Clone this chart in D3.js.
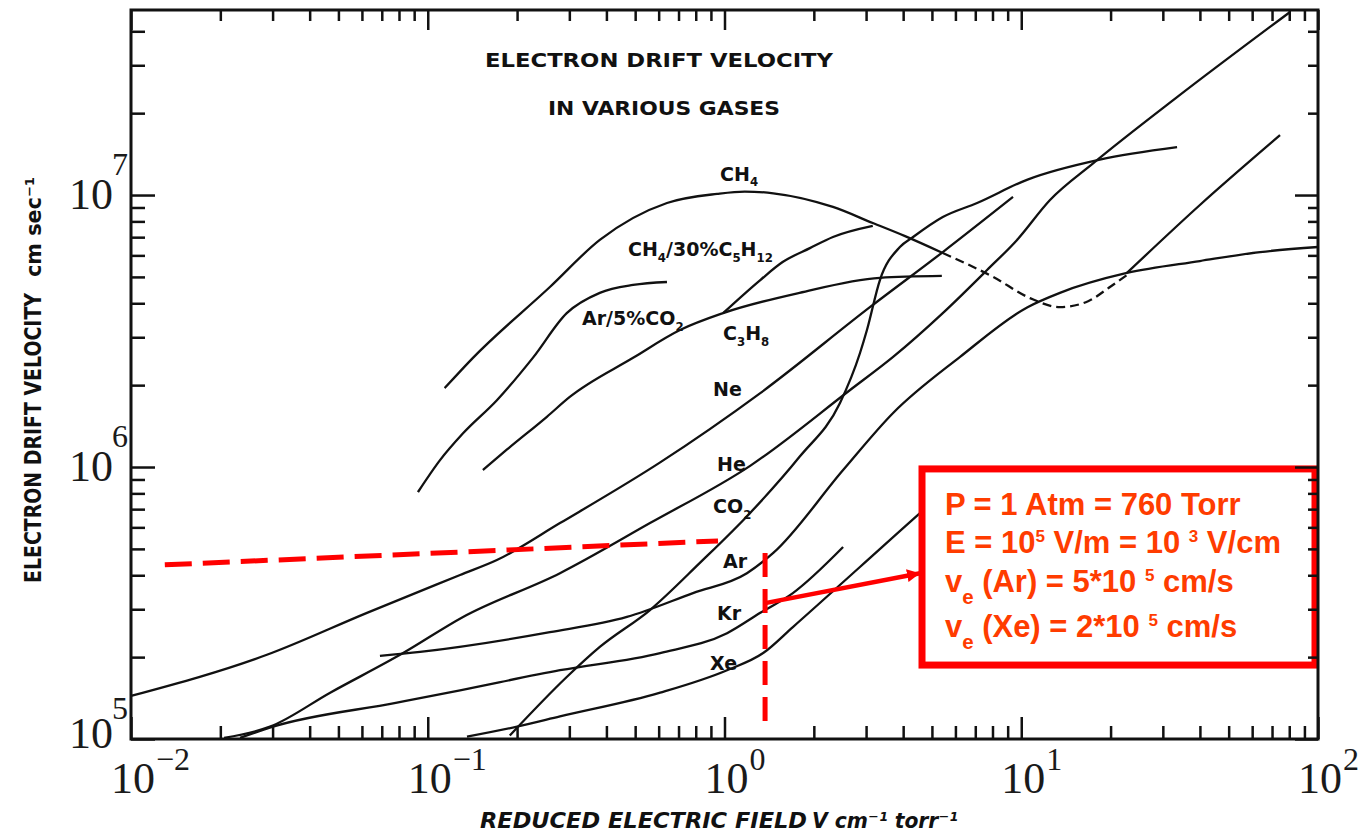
<!DOCTYPE html>
<html>
<head>
<meta charset="utf-8">
<script src="https://cdn.jsdelivr.net/npm/d3@7"></script>
<style>
  body { margin: 0; background: #fff; }
  .hand { font-family: "DejaVu Sans", sans-serif; font-weight: bold; fill: #111; }
  .tick-num { font-family: "Liberation Serif", "DejaVu Serif", serif; fill: #1a1a1a; }
  .note { font-family: "Liberation Sans", Arial, sans-serif; font-weight: bold; fill: #ff3c00; }
</style>
</head>
<body>
<div id="chart"></div>
<script>
// Data: reduced field E/p (V cm-1 torr-1) and electron drift velocity (cm/s)
var ch4 = [[0.114,1.95e6],[0.142,2.52e6],[0.258,4.59e6],[0.380,6.84e6],[0.640,9.35e6],[0.944,1.01e7],[1.17,1.03e7],[1.46,1.015e7],[2.32,9.04e6],[3.16,7.89e6],[4.06,7.06e6],[5.44,6.12e6]];
var ch4Dashed = [[5.44,6.12e6],[8.04,5.0e6],[10.7,4.18e6],[13.5,3.87e6],[16.8,4.07e6],[19.9,4.59e6],[22.7,5.08e6]];
var ch4Mix = [[0.989,3.68e6],[1.32,4.87e6],[1.57,5.67e6],[1.94,6.38e6],[2.32,7.01e6],[3.16,7.7e6]];
var arCo2 = [[0.0927,8.09e5],[0.110,1.06e6],[0.1315,1.33e6],[0.171,1.76e6],[0.226,2.52e6],[0.294,3.68e6],[0.380,4.37e6],[0.492,4.67e6],[0.640,4.79e6]];
var c3h8 = [[0.1535,9.75e5],[0.185,1.16e6],[0.252,1.53e6],[0.301,1.81e6],[0.492,2.52e6],[0.708,3.19e6],[0.989,3.68e6],[1.79,4.37e6],[3.34,4.96e6],[5.40,5.04e6]];
var ne = [[0.0100,1.44e5],[0.0287,2.04e5],[0.0624,2.91e5],[0.1285,4.01e5],[0.171,4.55e5],[0.279,6.22e5],[0.607,1.04e6],[1.32,1.87e6],[3.09,3.87e6],[5.44,6.17e6],[9.38,9.84e6]];
var he = [[0.0206,1.01e5],[0.0294,1.11e5],[0.0469,1.48e5],[0.0826,2.07e5],[0.1315,2.81e5],[0.279,4.07e5],[0.561,6.22e5],[1.22,1.01e6],[2.65,1.92e6],[3.70,2.54e6],[5.44,3.68e6],[7.67,5.30e6],[9.68,6.84e6],[12.5,9.59e6],[17.5,1.31e7],[33.5,2.29e7],[80.5,4.71e7]];
var co2 = [[0.189,1.03e5],[0.294,1.69e5],[0.380,2.18e5],[0.561,2.98e5],[0.826,4.44e5],[1.22,6.78e5],[1.79,1.09e6],[2.45,1.72e6],[2.86,2.62e6],[3.02,3.19e6],[3.34,4.87e6],[3.90,6.44e6],[4.32,7.01e6],[5.44,8.30e6],[7.10,9.35e6],[10.5,1.14e7],[18.4,1.35e7],[33.5,1.50e7]];
var ar = [[0.0690,2.02e5],[0.0942,2.09e5],[0.258,2.47e5],[0.469,2.81e5],[0.783,3.44e5],[1.19,4.07e5],[1.46,4.83e5],[2.51,9.75e5],[3.70,1.58e6],[6.22,2.54e6],[10.5,3.87e6],[13.5,4.37e6],[22.7,5.17e6],[40.0,5.72e6],[63.8,6.17e6],[100,6.44e6]];
var kr = [[0.0233,1.01e5],[0.0301,1.11e5],[0.0788,1.36e5],[0.1285,1.51e5],[0.279,1.79e5],[0.607,2.07e5],[1.02,2.45e5],[1.32,2.91e5],[1.70,3.44e5],[2.51,5.08e5]];
var xe = [[0.1356,1.02e5],[0.200,1.11e5],[0.279,1.21e5],[0.607,1.48e5],[1.02,1.79e5],[1.35,2.07e5],[1.70,2.58e5],[2.86,4.29e5],[4.81,7.13e5],[5.12,7.57e5]];
var xeHigh = [[22.7,5.17e6],[40.0,9.19e6],[74.5,1.66e7]];

// curve labels (text, E, v at baseline start)
var labelNames = ["CH_{4}", "CH_{4}/30%C_{5}H_{12}", "Ar/5%CO_{2}", "C_{3}H_{8}", "Ne", "He", "CO_{2}", "Ar", "Kr", "Xe"];
var labelE = [0.966, 0.473, 0.331, 0.989, 0.915, 0.944, 0.915, 0.989, 0.944, 0.894];
var labelV = [1.13e7, 5.97e6, 3.33e6, 2.93e6, 1.82e6, 9.67e5, 6.78e5, 4.26e5, 2.74e5, 1.79e5];

// axis ticks
var xTickExps = [-2, -1, 0, 1, 2];
var xTickLabels = ["\u22122", "\u22121", "0", "1", "2"];
var yTickExps = [5, 6, 7];
var yTickLabels = ["5", "6", "7"];
var yTop = 4.79e7;

// red annotation
var redHLine = [[0.0130, 4.37e5], [0.951, 5.35e5]];
var redVLine = [[1.37, 4.83e5], [1.37, 1.08e5]];
var redArrow = [[1.37, 3.16e5], [4.56, 4.07e5]];
var boxE = [4.63, 97.7];
var boxV = [1.87e5, 9.84e5];
var noteLines = ["P = 1 Atm = 760 Torr", "E = 10^{5} V/m = 10 ^{3} V/cm", "v_{e} (Ar) = 5*10 ^{5} cm/s", "v_{e} (Xe) = 2*10 ^{5} cm/s"];
var noteE = 5.53;
var noteV = [6.67e5, 4.83e5, 3.47e5, 2.37e5];

var svgWidth = 1372;
var svgHeight = 833;
var margin = { top: 10, right: 54, bottom: 94, left: 131 };
var chartWidth = svgWidth - margin.left - margin.right;
var chartHeight = svgHeight - margin.top - margin.bottom;

var svg = d3.select("#chart").append("svg")
  .attr("width", svgWidth)
  .attr("height", svgHeight)
  .style("display", "block");

svg.append("defs").append("marker")
  .attr("id", "arrow")
  .attr("viewBox", "0 0 10 10")
  .attr("refX", 10).attr("refY", 5)
  .attr("markerUnits", "userSpaceOnUse")
  .attr("markerWidth", 13).attr("markerHeight", 13)
  .attr("orient", "auto")
  .append("path").attr("d", "M0,0 L10,5 L0,10 z").attr("fill", "#ff0000");

var chartGroup = svg.append("g")
  .attr("transform", `translate(${margin.left}, ${margin.top})`);

var x = d3.scaleLog().domain([0.01, 100]).range([0, chartWidth]);
var y = d3.scaleLog().domain([1e5, yTop]).range([chartHeight, 0]);

// helper for sub/superscripts written as _{..} and ^{..}
function rich(sel, str, size, supRatio, supShift, subRatio, subShift) {
  var parts = str.split(/(\^\{[^}]*\}|_\{[^}]*\})/).filter(function(s) { return s.length; });
  var shift = 0;
  parts.forEach(function(p) {
    var target = 0, fs = size, txt = p;
    if (p[0] === "^") { target = -size * supShift; fs = size * supRatio; txt = p.slice(2, -1); }
    else if (p[0] === "_") { target = size * subShift; fs = size * subRatio; txt = p.slice(2, -1); }
    sel.append("tspan").attr("dy", target - shift).style("font-size", fs + "px").text(txt);
    shift = target;
  });
}

// curves
var line = d3.line()
  .x(d => x(d[0]))
  .y(d => y(d[1]))
  .curve(d3.curveMonotoneX);

var solidCurves = [ch4, ch4Mix, arCo2, c3h8, ne, he, co2, ar, kr, xe, xeHigh];
chartGroup.selectAll(".gas")
  .data(solidCurves)
  .enter()
  .append("path")
  .attr("class", "gas")
  .attr("d", line)
  .attr("fill", "none")
  .attr("stroke", "#111")
  .attr("stroke-width", 2.3);

chartGroup.append("path")
  .datum(ch4Dashed)
  .attr("d", line)
  .attr("fill", "none")
  .attr("stroke", "#111")
  .attr("stroke-width", 2.3)
  .attr("stroke-dasharray", "9,5");

// curve labels
labelNames.forEach(function(name, i) {
  var t = chartGroup.append("text")
    .attr("class", "hand")
    .attr("x", x(labelE[i]))
    .attr("y", y(labelV[i]));
  rich(t, name, 19, 0.6, 0.35, 0.62, 0.3);
});

// red annotation lines
var straight = d3.line().x(d => x(d[0])).y(d => y(d[1]));
chartGroup.append("path").datum(redHLine).attr("d", straight)
  .attr("stroke", "#ff0000").attr("stroke-width", 5).attr("stroke-dasharray", "27,11").attr("fill", "none");
chartGroup.append("path").datum(redVLine).attr("d", straight)
  .attr("stroke", "#ff0000").attr("stroke-width", 5).attr("stroke-dasharray", "24,12").attr("fill", "none");

// note box
chartGroup.append("rect")
  .attr("x", x(boxE[0]))
  .attr("y", y(boxV[1]))
  .attr("width", x(boxE[1]) - x(boxE[0]))
  .attr("height", y(boxV[0]) - y(boxV[1]))
  .attr("fill", "#fff")
  .attr("stroke", "#ff0000")
  .attr("stroke-width", 7);

noteLines.forEach(function(txt, i) {
  var t = chartGroup.append("text")
    .attr("class", "note")
    .attr("x", x(noteE))
    .attr("y", y(noteV[i]));
  rich(t, txt, 31, 0.55, 0.36, 0.66, 0.4);
});

chartGroup.append("path").datum(redArrow).attr("d", straight)
  .attr("stroke", "#ff0000").attr("stroke-width", 4.5).attr("fill", "none")
  .attr("marker-end", "url(#arrow)");

// axes
var xMinor = [], xMajor = [], yMinor = [], yMajor = [];
xTickExps.forEach(function(e) {
  xMajor.push(Math.pow(10, e));
  if (e < 2) for (var m = 2; m < 10; m++) xMinor.push(m * Math.pow(10, e));
});
yTickExps.forEach(function(e) {
  yMajor.push(Math.pow(10, e));
  for (var m = 2; m < 10; m++) if (m * Math.pow(10, e) <= yTop) yMinor.push(m * Math.pow(10, e));
});

function styleAxis(g) {
  g.select(".domain").remove();
  g.selectAll("line").attr("stroke", "#111").attr("stroke-width", 2.5);
}

chartGroup.append("g").attr("transform", `translate(0, ${chartHeight})`)
  .call(d3.axisBottom(x).tickValues(xMinor).tickSize(-13).tickFormat("")).call(styleAxis);
chartGroup.append("g").attr("transform", `translate(0, ${chartHeight})`)
  .call(d3.axisBottom(x).tickValues(xMajor).tickSize(-22).tickFormat("")).call(styleAxis);
chartGroup.append("g")
  .call(d3.axisTop(x).tickValues(xMinor).tickSize(-11).tickFormat("")).call(styleAxis);
chartGroup.append("g")
  .call(d3.axisTop(x).tickValues(xMajor).tickSize(-20).tickFormat("")).call(styleAxis);
chartGroup.append("g")
  .call(d3.axisLeft(y).tickValues(yMinor).tickSize(-14).tickFormat("")).call(styleAxis);
chartGroup.append("g")
  .call(d3.axisLeft(y).tickValues(yMajor).tickSize(-24).tickFormat("")).call(styleAxis);
chartGroup.append("g").attr("transform", `translate(${chartWidth}, 0)`)
  .call(d3.axisRight(y).tickValues(yMinor).tickSize(-10).tickFormat("")).call(styleAxis);
chartGroup.append("g").attr("transform", `translate(${chartWidth}, 0)`)
  .call(d3.axisRight(y).tickValues(yMajor).tickSize(-23).tickFormat("")).call(styleAxis);

// frame
chartGroup.append("rect")
  .attr("width", chartWidth).attr("height", chartHeight)
  .attr("fill", "none").attr("stroke", "#111").attr("stroke-width", 3);

// tick labels
xTickExps.forEach(function(e, i) {
  var px = x(Math.pow(10, e));
  chartGroup.append("text").attr("class", "tick-num")
    .attr("x", px + 2).attr("y", chartHeight + 54)
    .attr("text-anchor", "middle").style("font-size", "44px").text("10");
  chartGroup.append("text").attr("class", "tick-num")
    .attr("x", px + 25).attr("y", chartHeight + 31)
    .style("font-size", "32px").text(xTickLabels[i]);
});
yTickExps.forEach(function(e, i) {
  var py = y(Math.pow(10, e));
  chartGroup.append("text").attr("class", "tick-num")
    .attr("x", -18).attr("y", py + (e === 5 ? 9 : 14))
    .attr("text-anchor", "end").style("font-size", "44px").text("10");
  chartGroup.append("text").attr("class", "tick-num")
    .attr("x", -19).attr("y", py - 20)
    .style("font-size", "32px").text(yTickLabels[i]);
});

// titles
svg.append("text").attr("class", "hand")
  .attr("x", 485).attr("y", 67)
  .attr("textLength", 348).attr("lengthAdjust", "spacingAndGlyphs")
  .style("font-size", "20px")
  .text("ELECTRON  DRIFT  VELOCITY");
svg.append("text").attr("class", "hand")
  .attr("x", 548).attr("y", 115)
  .attr("textLength", 232).attr("lengthAdjust", "spacingAndGlyphs")
  .style("font-size", "20px")
  .text("IN  VARIOUS  GASES");

// axis titles
svg.append("text").attr("class", "hand")
  .attr("transform", "translate(41, 583) rotate(-90)")
  .attr("textLength", 290).attr("lengthAdjust", "spacingAndGlyphs")
  .style("font-size", "23px")
  .text("ELECTRON DRIFT VELOCITY");
svg.append("text").attr("class", "hand")
  .attr("transform", "translate(41, 277) rotate(-90)")
  .attr("textLength", 100).attr("lengthAdjust", "spacingAndGlyphs")
  .style("font-size", "22px")
  .text("cm sec\u207B\u00B9");
svg.append("text").attr("class", "hand")
  .attr("x", 480).attr("y", 828)
  .attr("textLength", 327).attr("lengthAdjust", "spacingAndGlyphs")
  .style("font-size", "22px").style("font-style", "italic")
  .text("REDUCED  ELECTRIC  FIELD");
svg.append("text").attr("class", "hand")
  .attr("x", 812).attr("y", 828)
  .attr("textLength", 146).attr("lengthAdjust", "spacingAndGlyphs")
  .style("font-size", "21px").style("font-style", "italic")
  .text("V cm\u207B\u00B9 torr\u207B\u00B9");
</script>
</body>
</html>
